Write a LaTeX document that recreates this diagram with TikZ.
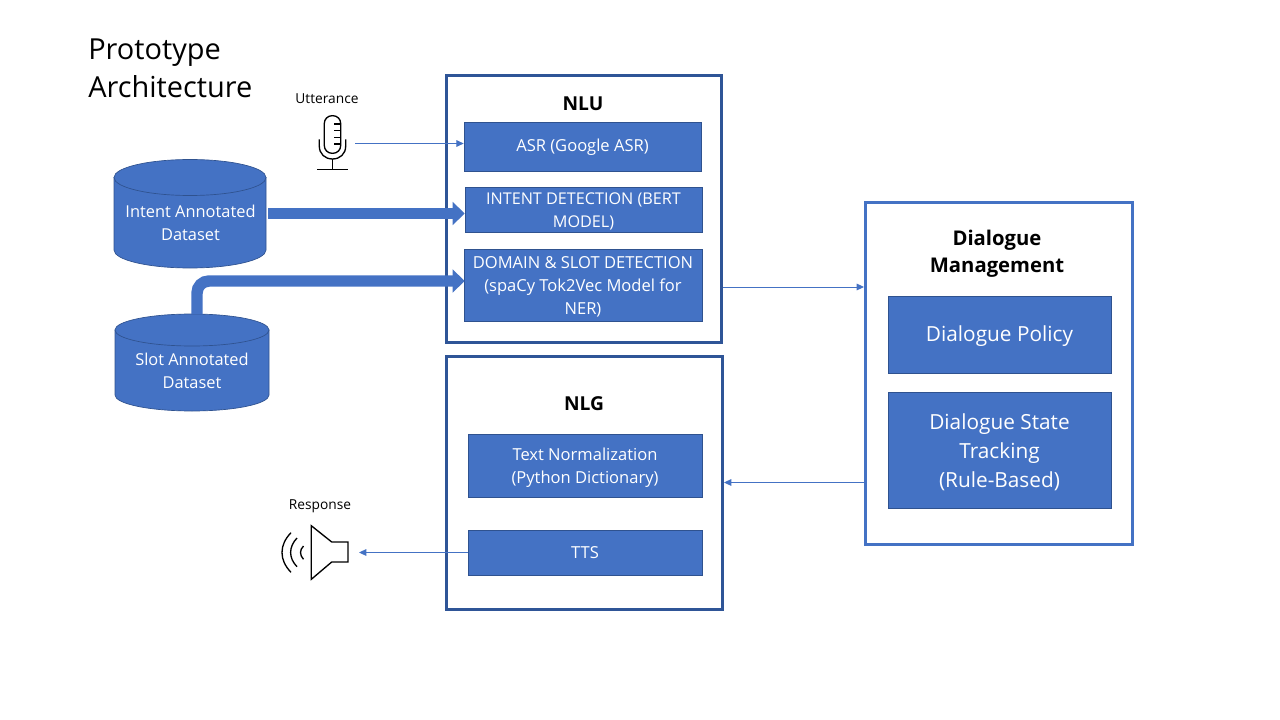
\documentclass[tikz,border=0pt]{standalone}
\usepackage{fontspec}
\setmainfont{Open Sans}
\usetikzlibrary{arrows.meta}
\definecolor{fillblue}{HTML}{4472C4}
\definecolor{edgeblue}{HTML}{2F528F}
\definecolor{frameblue}{HTML}{2F5597}
\tikzset{
  x=0.75pt,y=-0.75pt,
  frame/.style={draw=frameblue,line width=2.25pt,fill=white,minimum width=#1},
  bluebox/.style={draw=edgeblue,line width=0.5pt,fill=fillblue,inner sep=0pt},
  boxtext/.style={text=white,align=center,inner sep=0pt,font=\fontsize{12.4}{17.2}\selectfont},
  bigtext/.style={text=white,align=center,inner sep=0pt,font=\fontsize{15.6}{21.8}\selectfont},
  headtext/.style={font=\fontsize{14.4}{20}\selectfont\bfseries,align=center,inner sep=0pt},
  smalltext/.style={font=\fontsize{10.3}{12}\selectfont,inner sep=0pt},
  cyltext/.style={font=\fontsize{12.3}{17.2}\selectfont,text=white,align=center,inner sep=0pt},
  ghost/.style={inner sep=0pt,outer sep=0pt},
  thinarrow/.style={draw=fillblue,line width=0.75pt,-{Triangle[length=5.5pt,width=5pt]}},
  blockarrow/.style={draw=fillblue,line width=8.6pt,-{Triangle[length=9pt,width=17pt]}},
  cylbody/.style={draw=edgeblue,line width=0.5pt,fill=fillblue},
  icon/.style={draw=black,line width=1pt},
}
\begin{document}
\begin{tikzpicture}
\useasboundingbox (0,0) rectangle (1280,720);
% frames
\node[frame=206.25pt,minimum height=200.25pt] (nlu) at (584,209) {};
\node[frame=207pt,minimum height=189.75pt] (nlg) at (584.5,483) {};
\node[frame=200.25pt,minimum height=256.5pt,draw=fillblue] (dm) at (999,373.5) {};
% titles
\node[inner sep=0pt,align=left,anchor=north west,font=\fontsize{21.7}{28.5}\selectfont] (title) at (88,39) {Prototype\\Architecture};
\node[headtext] (nluhead) at (583,104) {NLU};
\node[headtext] (nlghead) at (584,404) {NLG};
\node[headtext,font=\fontsize{15.2}{20}\selectfont\bfseries] (dmhead) at (997,253.5) {Dialogue\\Management};
% inner boxes
\node[bluebox,minimum width=177.75pt,minimum height=36.75pt] (asr) at (582.5,146.5) {};
\node[boxtext] (asrtext) at ([yshift=-0.4pt]asr) {ASR (Google ASR)};
\node[bluebox,minimum width=177.75pt,minimum height=33.75pt] (intentdet) at (583.5,209.5) {};
\node[boxtext,font=\fontsize{12.15}{17.2}\selectfont] (intenttext2) at ([yshift=-1.1pt]intentdet) {INTENT DETECTION (BERT\\MODEL)};
\node[bluebox,minimum width=178.5pt,minimum height=54pt] (domain) at (583,285) {};
\node[boxtext] (domaintext) at ([yshift=-1.5pt]domain) {DOMAIN \& SLOT DETECTION\\(spaCy Tok2Vec Model for\\NER)};
\node[bluebox,minimum width=175.5pt,minimum height=47.25pt] (norm) at (585,465.5) {};
\node[boxtext] (normtext) at ([yshift=-1.5pt]norm) {Text Normalization\\(Python Dictionary)};
\node[bluebox,minimum width=175.5pt,minimum height=33.75pt] (tts) at (585,552.5) {};
\node[boxtext] (ttstext) at (tts) {TTS};
\node[bluebox,minimum width=167.25pt,minimum height=57.75pt] (policy) at (999.5,334.5) {};
\node[bigtext] (policytext) at ([yshift=-1.5pt]policy) {Dialogue Policy};
\node[bluebox,minimum width=167.25pt,minimum height=87pt] (state) at (999.5,450) {};
\node[bigtext] (statetext) at ([yshift=-1.5pt]state) {Dialogue State\\Tracking\\(Rule-Based)};
% cylinders
\path[cylbody] (114,177.5) -- (114,250) .. controls (114,260) and (148,268) .. (190,268) .. controls (232,268) and (266,260) .. (266,250) -- (266,177.5) -- cycle;
\path[cylbody] (190,177.5) ellipse [x radius=57pt,y radius=13.5pt];
\path[cylbody] (115,330) -- (115,395) .. controls (115,404) and (150,411) .. (192,411) .. controls (234,411) and (269,404) .. (269,395) -- (269,330) -- cycle;
\path[cylbody] (192,330) ellipse [x radius=57.75pt,y radius=12pt];
\node[ghost,minimum width=114pt,minimum height=81.75pt] (intentcyl) at (190,213.5) {};
\node[ghost,minimum width=115.5pt,minimum height=72.75pt] (slotcyl) at (192,362.5) {};
\node[cyltext] (intenttext) at (190.5,222.5) {Intent Annotated\\Dataset};
\node[cyltext] (slottext) at (192,370.5) {Slot Annotated\\Dataset};
% block arrows
\coordinate (slotbend) at (197,281);
\draw[blockarrow] ([xshift=1.5pt]intentcyl.east) -- (intentdet.west |- intentcyl.east);
\draw[blockarrow,rounded corners=9pt] (slotcyl.north -| slotbend) -- (slotbend) -- ([xshift=0.75pt]domain.west |- slotbend);
% microphone
\coordinate (micout) at (355,143.5);
\node[smalltext] (utter) at (327,99) {Utterance};
\draw[icon,rounded corners=5.8pt] (324.3,115.7) rectangle (340.7,153.3);
\draw[icon] (340.7,124) -- (334.3,124) (340.7,130.7) -- (334.3,130.7) (340.7,137.3) -- (334.3,137.3) (340.7,144) -- (334.3,144);
\draw[icon] (319.3,139.3) -- (319.3,146) .. controls (319.3,154) and (325,159) .. (332.5,159) .. controls (340,159) and (345.7,154) .. (345.7,146) -- (345.7,139.3);
\draw[icon] (332.4,159) -- (332.4,169.5) (317.3,169.5) -- (347.7,169.5);
% speaker
\coordinate (speakerin) at (359,552);
\node[smalltext] (resp) at (320,506) {Response};
\draw[icon,line join=miter] (311.3,525.7) -- (331.7,542) -- (348,542) -- (348,562) -- (331.7,562) -- (311.3,579.3) -- cycle;
\draw[icon] (291,532.7) .. controls (279,545) and (279,560) .. (291,572.3);
\draw[icon] (297,538) .. controls (288.5,547) and (288.5,558) .. (297,566.7);
\draw[icon] (303.5,546) .. controls (299.5,550) and (299.5,555) .. (303.5,559.3);
% thin connectors
\draw[thinarrow] (micout) -- (micout -| asr.west);
\draw[thinarrow] ([yshift=-1.5pt]domain.east -| nlu.east) -- ([yshift=-1.5pt]domain.east -| dm.west);
\draw[thinarrow] (dm.west |- 0,482.5) -- (nlg.east |- 0,482.5);
\draw[thinarrow] (tts.west) -- (speakerin |- tts.west);
\end{tikzpicture}
\end{document}
